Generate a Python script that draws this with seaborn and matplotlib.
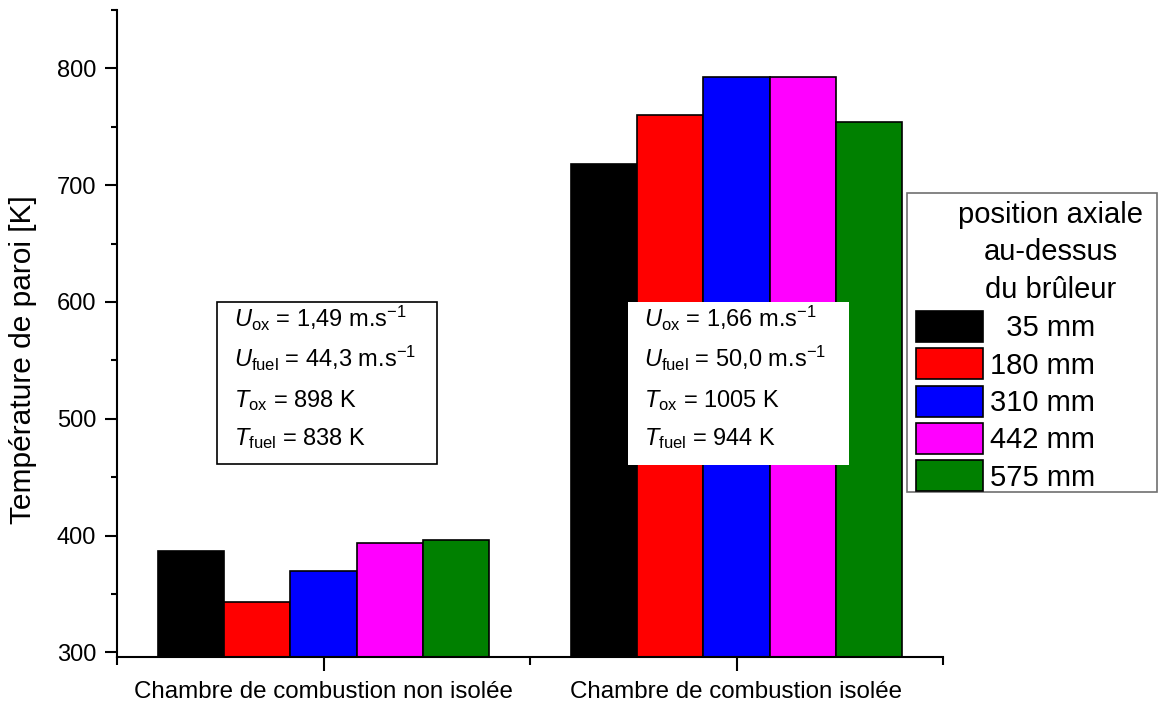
import matplotlib
matplotlib.use("Agg")
import matplotlib.pyplot as plt
from matplotlib.patches import Rectangle
from matplotlib.ticker import MultipleLocator, FixedLocator
import seaborn as sns
import pandas as pd

# ---- data ----
categories = ["Chambre de combustion non isolée", "Chambre de combustion isolée"]
positions = ["  35 mm", "180 mm", "310 mm", "442 mm", "575 mm"]
temp_non_isolee = [386.8, 343.0, 369.7, 394.0, 396.6]
temp_isolee = [718.5, 760.3, 792.8, 792.8, 753.8]
colors = ["#000000", "#ff0000", "#0000ff", "#ff00ff", "#008000"]
legend_title = ["position axiale", "au-dessus", "du brûleur"]
box1_lines = [r"$U_{\mathrm{ox}}$ = 1,49 m.s$^{-1}$",
              r"$U_{\mathrm{fuel}}$ = 44,3 m.s$^{-1}$",
              r"$T_{\mathrm{ox}}$ = 898 K",
              r"$T_{\mathrm{fuel}}$ = 838 K"]
box2_lines = [r"$U_{\mathrm{ox}}$ = 1,66 m.s$^{-1}$",
              r"$U_{\mathrm{fuel}}$ = 50,0 m.s$^{-1}$",
              r"$T_{\mathrm{ox}}$ = 1005 K",
              r"$T_{\mathrm{fuel}}$ = 944 K"]

rows = []
for cat, vals in zip(categories, [temp_non_isolee, temp_isolee]):
    for p, v in zip(positions, vals):
        rows.append({"cat": cat, "pos": p, "T": v})
df = pd.DataFrame(rows)

sns.set_style("ticks")
plt.rcParams["font.family"] = ["Liberation Sans", "DejaVu Sans"]
plt.rcParams["mathtext.fontset"] = "custom"
plt.rcParams["mathtext.rm"] = "Liberation Sans"
plt.rcParams["mathtext.it"] = "Liberation Sans:italic"
plt.rcParams["mathtext.bf"] = "Liberation Sans:bold"
for k in ["text.color", "axes.edgecolor", "axes.labelcolor",
          "xtick.color", "ytick.color"]:
    plt.rcParams[k] = "black"

W, H = 1161, 704
fig = plt.figure(figsize=(W / 100, H / 100), dpi=100)


def fx(x):
    return x / W


def fy(y):
    return 1 - y / H


ax = fig.add_axes([fx(117), fy(657), fx(943) - fx(117), fy(10) - fy(657)])
ax.patch.set_alpha(0)

sns.barplot(data=df, x="cat", y="T", hue="pos", hue_order=positions,
            order=categories, palette=colors, saturation=1, width=0.8,
            edgecolor="black", linewidth=1.2, ax=ax)

ax.set_xlim(-0.5, 1.5)
ax.set_ylim(296, 850)
ax.yaxis.set_major_locator(MultipleLocator(100))
ax.yaxis.set_minor_locator(MultipleLocator(50))
ax.xaxis.set_minor_locator(FixedLocator([-0.5, 0.5, 1.5]))
for s in ["top", "right"]:
    ax.spines[s].set_visible(False)
for s in ["left", "bottom"]:
    ax.spines[s].set_linewidth(1.5)
    ax.spines[s].set_color("black")
ax.tick_params(axis="y", which="major", length=9, width=1.5, direction="out",
               labelsize=17, pad=6, colors="black")
ax.tick_params(axis="y", which="minor", length=4.5, width=1.5, direction="out",
               colors="black")
ax.tick_params(axis="x", which="major", length=10, width=1.5, direction="out",
               labelsize=17.4, pad=7, colors="black")
ax.tick_params(axis="x", which="minor", length=6, width=1.5, direction="out",
               colors="black")
ax.set_xlabel("")
ax.set_ylabel("")
fig.text(fx(23), fy(360), "Température de paroi [K]", rotation=90,
         ha="center", va="center", fontsize=21.5, color="black")

# annotation boxes
ax.add_patch(Rectangle((fx(217), fy(464)), fx(437) - fx(217), fy(302) - fy(464),
                       transform=fig.transFigure, facecolor="white",
                       edgecolor="black", linewidth=1.2, clip_on=False, zorder=3))
ax.add_patch(Rectangle((fx(628), fy(465)), fx(849) - fx(628), fy(302) - fy(465),
                       transform=fig.transFigure, facecolor="white",
                       edgecolor="none", clip_on=False, zorder=3))
baselines = [327, 367, 407, 445]
for line, yb in zip(box1_lines, baselines):
    ax.text(fx(234), fy(yb), line, transform=fig.transFigure, fontsize=17,
            va="baseline", ha="left", zorder=4, color="black")
for line, yb in zip(box2_lines, baselines):
    ax.text(fx(644), fy(yb), line, transform=fig.transFigure, fontsize=17,
            va="baseline", ha="left", zorder=4, color="black")

# legend
ax.add_patch(Rectangle((fx(907), fy(492)), fx(1157) - fx(907), fy(193) - fy(492),
                       transform=fig.transFigure, facecolor="white",
                       edgecolor="#707070", linewidth=1.2, clip_on=False, zorder=4))
for t, yc in zip(legend_title, [215, 252, 290]):
    ax.text(fx(1051), fy(yc), t, transform=fig.transFigure, fontsize=21,
            ha="center", va="center", zorder=6, color="black")
handles, labels = ax.get_legend_handles_labels()
ax.legend(handles, labels, loc="upper left", bbox_to_anchor=(fx(916), fy(311)),
          bbox_transform=fig.transFigure, frameon=False, fontsize=21,
          handlelength=2.3, handleheight=1.25, handletextpad=0.24,
          labelspacing=0.21, borderpad=0, borderaxespad=0)

fig.savefig("out.png", dpi=100)
